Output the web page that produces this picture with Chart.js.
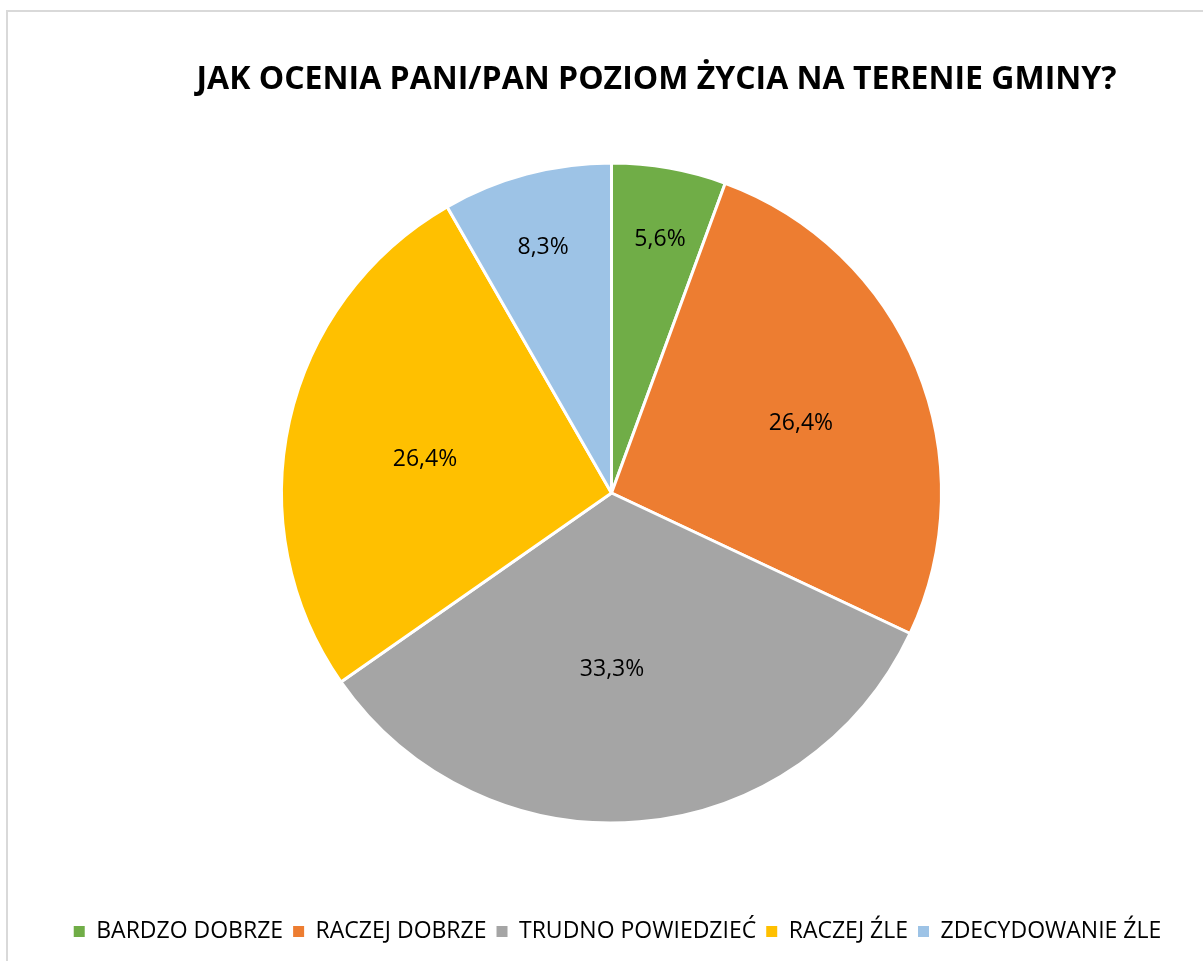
<!DOCTYPE html>
<html lang="pl">
<head>
<meta charset="utf-8">
<title>Poziom życia na terenie gminy</title>
<script src="https://cdn.jsdelivr.net/npm/chart.js@4/dist/chart.umd.min.js"></script>
<style>
  html, body { margin: 0; padding: 0; background: #ffffff; }
  body { width: 1203px; height: 961px; overflow: hidden; position: relative; }
  #frame {
    position: absolute; left: 6px; top: 10px; width: 1300px; height: 1000px;
    border-left: 2px solid #d9d9d9; border-top: 2px solid #d9d9d9; background: #ffffff;
  }
  #chart { position: absolute; left: 0; top: 0; }
</style>
</head>
<body>
<div id="frame"></div>
<canvas id="chart" width="1203" height="961"></canvas>
<script>
// Survey answers and their shares (percent)
const categories = ['BARDZO DOBRZE', 'RACZEJ DOBRZE', 'TRUDNO POWIEDZIEĆ', 'RACZEJ ŹLE', 'ZDECYDOWANIE ŹLE'];
const shares = [5.6, 26.4, 33.3, 26.4, 8.3];
const sliceColors = ['#70ad47', '#ed7d31', '#a5a5a5', '#ffc000', '#9dc3e6'];
const chartTitle = 'JAK OCENIA PANI/PAN POZIOM ŻYCIA NA TERENIE GMINY?';

// where each percentage sits: distance out (fraction of radius)
// and position across the slice (0 = start edge, 1 = end edge)
const labelRadius = [0.784, 0.612, 0.532, 0.575, 0.775];
const labelSpan = [0.536, 0.521, 0.539, 0.479, 0.481];

const fmt = v => v.toFixed(1).replace('.', ',') + '%';

// Writes the percentage inside every slice
const sliceLabels = {
  id: 'sliceLabels',
  afterDatasetsDraw(chart) {
    const ctx = chart.ctx;
    const meta = chart.getDatasetMeta(0);
    ctx.save();
    ctx.font = '23px "Open Sans", sans-serif';
    ctx.fillStyle = '#000000';
    ctx.textAlign = 'center';
    ctx.textBaseline = 'middle';
    meta.data.forEach((arc, i) => {
      const p = arc.getProps(['x', 'y', 'startAngle', 'endAngle', 'outerRadius'], true);
      const a = p.startAngle + (p.endAngle - p.startAngle) * labelSpan[i];
      const r = p.outerRadius * labelRadius[i];
      ctx.fillText(fmt(shares[i]), p.x + Math.cos(a) * r, p.y + Math.sin(a) * r + 1);
    });
    ctx.restore();
  }
};

// Nudges the title and legend sideways after layout
const blockShift = {
  id: 'blockShift',
  afterLayout(chart, args, opts) {
    const t = chart.titleBlock;
    if (t) { t.left += opts.title; t.right += opts.title; }
    const l = chart.legend;
    if (l && opts.legend) {
      l.left += opts.legend; l.right += opts.legend;
    }
  }
};

// Legend swatches: plain filled squares without the white slice outline
const pieLegendLabels = Chart.controllers.pie.overrides.plugins.legend.labels.generateLabels;
function solidSwatches(chart) {
  return pieLegendLabels(chart).map(item => Object.assign(item, {
    strokeStyle: item.fillStyle,
    lineWidth: 0
  }));
}

new Chart(document.getElementById('chart'), {
  type: 'pie',
  data: {
    labels: categories,
    datasets: [{
      data: shares,
      backgroundColor: sliceColors,
      borderColor: '#ffffff',
      borderWidth: 3,
      hoverOffset: 0
    }]
  },
  options: {
    responsive: false,
    animation: false,
    radius: 330,
    layout: { padding: { left: 20, right: 0, top: 0, bottom: 8 } },
    plugins: {
      title: {
        display: true,
        text: chartTitle,
        color: '#000000',
        font: { family: '"Open Sans", sans-serif', size: 32, weight: 'bold', lineHeight: 1 },
        padding: { top: 64, bottom: -20 }
      },
      legend: {
        position: 'bottom',
        labels: {
          color: '#000000',
          font: { family: '"Open Sans", sans-serif', size: 23 },
          boxWidth: 11,
          boxHeight: 11,
          padding: 10,
          generateLabels: solidSwatches
        }
      },
      tooltip: { enabled: false },
      blockShift: { title: 45, legend: 6 }
    }
  },
  plugins: [sliceLabels, blockShift]
});
</script>
</body>
</html>
